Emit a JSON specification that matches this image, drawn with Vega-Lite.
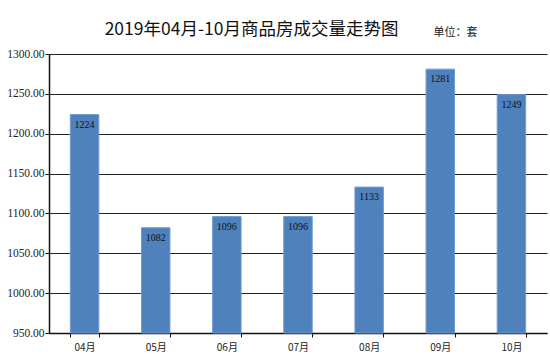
{
  "$schema": "https://vega.github.io/schema/vega-lite/v6.json",
  "width": 498,
  "height": 279,
  "autosize": "none",
  "padding": {"left": 49, "top": 54, "right": 3, "bottom": 29},
  "background": "white",
  "title": {
    "text": "2019年04月-10月商品房成交量走势图",
    "font": "Noto Sans CJK SC",
    "fontSize": 17.5,
    "fontWeight": "normal",
    "color": "#111",
    "anchor": "start",
    "dx": 98,
    "dy": 28,
    "offset": 16
  },
  "data": {
    "values": [
      {"month": "04月", "value": 1224},
      {"month": "05月", "value": 1082},
      {"month": "06月", "value": 1096},
      {"month": "07月", "value": 1096},
      {"month": "08月", "value": 1133},
      {"month": "09月", "value": 1281},
      {"month": "10月", "value": 1249}
    ]
  },
  "encoding": {
    "x": {
      "field": "month",
      "type": "nominal",
      "sort": null,
      "scale": {"paddingInner": 0.6, "paddingOuter": 0.3},
      "axis": {
        "title": null,
        "labelAngle": 0,
        "labelFont": "Noto Sans CJK SC",
        "labelFontSize": 10,
        "labelColor": "#222",
        "labelPadding": 5,
        "tickBand": "extent",
        "tickSize": 4,
        "tickColor": "#111",
        "domainColor": "#111",
        "domainWidth": 1.5
      }
    },
    "y": {
      "field": "value",
      "type": "quantitative",
      "scale": {"domain": [950, 1300], "zero": false, "nice": false},
      "axis": {
        "title": "单位：套",
        "titleAngle": 0,
        "titleX": 384,
        "titleY": -22,
        "titleAlign": "left",
        "titleBaseline": "middle",
        "titleFont": "Noto Sans CJK SC",
        "titleFontSize": 11,
        "titleFontWeight": "normal",
        "titleColor": "#222",
        "values": [950, 1000, 1050, 1100, 1150, 1200, 1250, 1300],
        "format": ".2f",
        "labelFont": "Liberation Serif",
        "labelFontSize": 11.5,
        "labelColor": "#222",
        "labelPadding": 1,
        "tickSize": 4,
        "tickColor": "#111",
        "domainColor": "#111",
        "domainWidth": 1.5,
        "grid": true,
        "gridColor": "#222",
        "gridWidth": 1.2
      }
    }
  },
  "layer": [
    {
      "mark": {"type": "bar", "color": "#4F81BD", "stroke": "#6f9bd0", "strokeWidth": 1},
      "encoding": {"y2": {"datum": 950}}
    },
    {
      "mark": {"type": "text", "baseline": "top", "dy": 5, "font": "Liberation Serif", "fontSize": 10, "color": "#111"},
      "encoding": {"text": {"field": "value", "type": "quantitative"}}
    }
  ],
  "config": {"view": {"stroke": null}}
}
